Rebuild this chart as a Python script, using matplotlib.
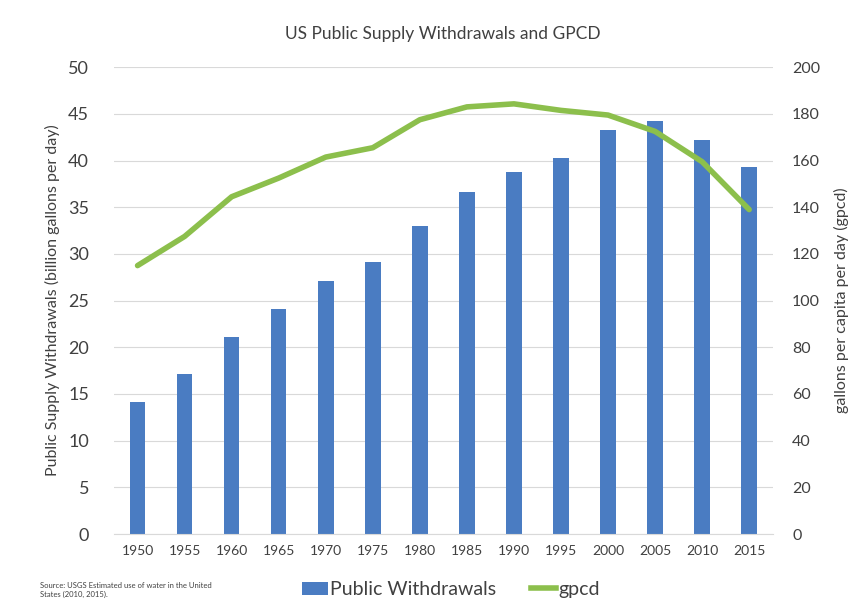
import numpy as np
import matplotlib
matplotlib.use("Agg")
import matplotlib.pyplot as plt
from matplotlib.lines import Line2D
from matplotlib.patches import Patch

# ── data ──────────────────────────────────────────────────────────────────────
years = ["1950", "1955", "1960", "1965", "1970", "1975", "1980",
         "1985", "1990", "1995", "2000", "2005", "2010", "2015"]
withdrawals = [14.1, 17.1, 21.1, 24.1, 27.1, 29.1, 33.0,
               36.6, 38.8, 40.3, 43.3, 44.2, 42.2, 39.3]
gpcd = [115, 127.5, 144.5, 152.5, 161.5, 165.5, 177.5,
        183, 184.3, 181.5, 179.5, 172.5, 159.5, 139]

BAR_C = "#4A7CC2"
LINE_C = "#8CBF4C"
TXT_C = "#404040"

plt.rcParams["font.family"] = ["Lato", "DejaVu Sans"]

fig = plt.figure(figsize=(8.51, 6.11), dpi=100, facecolor="white")
ax = fig.add_axes([0.134, 0.126, 0.774, 0.764])
ax2 = ax.twinx()

x = np.arange(len(years))
ax.bar(x, withdrawals, width=0.33, color=BAR_C, zorder=2)
ax2.plot(x, gpcd, color=LINE_C, lw=4, solid_capstyle="round",
         solid_joinstyle="round", zorder=3)

ax.set_xlim(-0.5, len(years) - 0.5)
ax.set_ylim(0, 50)
ax.set_yticks(np.arange(0, 51, 5))
ax2.set_ylim(0, 200)
ax2.set_yticks(np.arange(0, 201, 20))
ax.set_xticks(x)
ax.set_xticklabels(years)

ax.grid(axis="y", color="#d9d9d9", lw=0.8, zorder=0)
ax.set_axisbelow(True)
for a in (ax, ax2):
    for sp in a.spines.values():
        sp.set_visible(False)
ax.spines["bottom"].set_visible(True)
ax.spines["bottom"].set_color("#d9d9d9")

ax.tick_params(axis="y", length=0, labelsize=13, labelcolor=TXT_C, pad=18)
ax.tick_params(axis="x", length=0, labelsize=10, labelcolor=TXT_C, pad=8)
ax2.tick_params(axis="y", length=0, labelsize=11.5, labelcolor=TXT_C, pad=14)

ax.set_ylabel("Public Supply Withdrawals (billion gallons per day)",
              fontsize=11.5, color=TXT_C, labelpad=6)
ax2.set_ylabel("gallons per capita per day (gpcd)",
               fontsize=11.5, color=TXT_C, labelpad=10)

fig.text(0.52, 0.945, "US Public Supply Withdrawals and GPCD",
         ha="center", va="center", fontsize=12.5, color=TXT_C)

handles = [Patch(facecolor=BAR_C, edgecolor="none"),
           Line2D([0], [0], color=LINE_C, lw=4)]
fig.legend(handles, ["Public Withdrawals", "gpcd"], loc="center",
           bbox_to_anchor=(0.53, 0.035), ncol=2, frameon=False,
           fontsize=14, handlelength=1.3, handletextpad=0.1,
           columnspacing=1.8, labelcolor=TXT_C)

fig.text(0.047, 0.034, "Source: USGS Estimated use of water in the United\n"
         "States (2010, 2015).", ha="left", va="center",
         fontsize=5.5, color=TXT_C, linespacing=1.3)

fig.savefig("out.png", dpi=100, facecolor="white")
